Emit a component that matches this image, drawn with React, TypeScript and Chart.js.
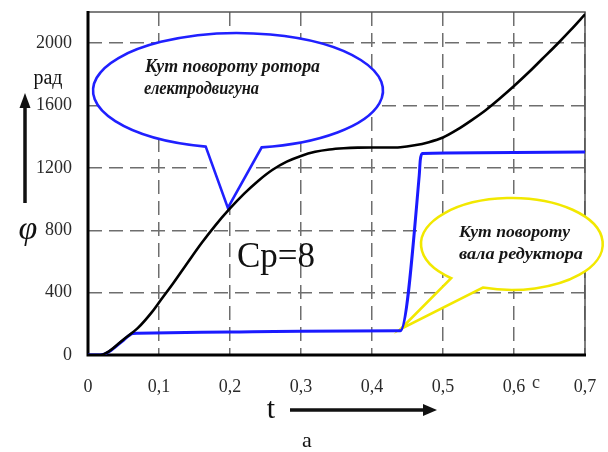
import React, { useEffect, useRef } from 'react';
import { Chart, registerables } from 'chart.js';

Chart.register(...registerables);

// ---- data (t in seconds, phi in rad) ----
const rotorT = [0, 0.017, 0.03, 0.05, 0.07, 0.09, 0.1, 0.12, 0.14, 0.16, 0.18, 0.2, 0.22, 0.24, 0.26, 0.28, 0.3, 0.32, 0.34, 0.36, 0.38, 0.4, 0.42, 0.44, 0.46, 0.48, 0.5, 0.52, 0.54, 0.56, 0.58, 0.6, 0.62, 0.64, 0.66, 0.68, 0.7];
const rotorPhi = [0, 0, 25, 100, 172, 275, 337, 460, 590, 718, 835, 940, 1035, 1118, 1188, 1240, 1277, 1303, 1318, 1326, 1330, 1331, 1331, 1333, 1345, 1365, 1395, 1445, 1505, 1570, 1645, 1725, 1810, 1900, 1990, 2085, 2185];
const shaftT = [0, 0.017, 0.03, 0.05, 0.063, 0.07, 0.2, 0.3, 0.44, 0.4665, 0.468, 0.471, 0.55, 0.7];
const shaftPhi = [0, 0, 22, 95, 138, 140, 147, 152, 155, 1150, 1250, 1293, 1298, 1302];

const xTicks = [0, 0.1, 0.2, 0.3, 0.4, 0.5, 0.6, 0.7];
const xTickLabels = ['0', '0,1', '0,2', '0,3', '0,4', '0,5', '0,6', '0,7'];
const yTicks = [0, 400, 800, 1200, 1600, 2000];

const rotorLabel = ['Кут повороту ротора', 'електродвигуна'];
const shaftLabel = ['Кут повороту', 'вала редуктора'];
const ratioLabel = 'Cp=8';
const yUnit = 'рад';
const xUnit = 'c';
const yName = 'φ';
const xName = 't';
const caption = 'a';

const SERIF = '"Liberation Serif", "Times New Roman", serif';

type Callout = {
  color: string;
  c: [number, number];
  r: [number, number];
  baseA: [number, number];
  tip: [number, number];
  baseB: [number, number];
  lines: { text: string; at: [number, number]; w: number }[];
  size: number;
};

const callouts: Callout[] = [
  {
    color: '#2020ff',
    c: [0.2113, 1696],
    r: [0.2042, 369],
    baseA: [0.1648, 1328],
    tip: [0.197, 943],
    baseB: [0.245, 1328],
    lines: [
      { text: rotorLabel[0], at: [0.0803, 1815], w: 175 },
      { text: rotorLabel[1], at: [0.0789, 1674], w: 115 },
    ],
    size: 18,
  },
  {
    color: '#f2e800',
    c: [0.597, 712],
    r: [0.128, 295],
    baseA: [0.507, 481],
    tip: [0.44, 165],
    baseB: [0.552, 404],
    lines: [
      { text: shaftLabel[0], at: [0.5225, 757], w: 111 },
      { text: shaftLabel[1], at: [0.5225, 616], w: 124 },
    ],
    size: 17,
  },
];

function drawCallout(ctx: CanvasRenderingContext2D, xs: any, ys: any, co: Callout) {
  const cx = xs.getPixelForValue(co.c[0]);
  const cy = ys.getPixelForValue(co.c[1]);
  const rx = Math.abs(xs.getPixelForValue(co.c[0] + co.r[0]) - cx);
  const ry = Math.abs(ys.getPixelForValue(co.c[1] - co.r[1]) - cy);
  const ang = (p: [number, number]) => {
    const px = xs.getPixelForValue(p[0]);
    const py = ys.getPixelForValue(p[1]);
    return Math.atan2((py - cy) / ry, (px - cx) / rx);
  };
  const a = ang(co.baseA);
  const b = ang(co.baseB);
  let end = b;
  while (end < a) end += Math.PI * 2;
  if (end - a < Math.PI) end += Math.PI * 2;
  ctx.beginPath();
  ctx.ellipse(cx, cy, rx, ry, 0, a, end, false);
  ctx.lineTo(xs.getPixelForValue(co.tip[0]), ys.getPixelForValue(co.tip[1]));
  ctx.closePath();
  ctx.fillStyle = '#ffffff';
  ctx.fill();
  ctx.lineWidth = 2.6;
  ctx.strokeStyle = co.color;
  ctx.lineJoin = 'miter';
  ctx.stroke();

  ctx.fillStyle = '#161616';
  ctx.font = `italic bold ${co.size}px ${SERIF}`;
  ctx.textAlign = 'left';
  ctx.textBaseline = 'alphabetic';
  for (const ln of co.lines) {
    const px = xs.getPixelForValue(ln.at[0]);
    const py = ys.getPixelForValue(ln.at[1]);
    const mw = ctx.measureText(ln.text).width;
    ctx.save();
    ctx.translate(px, py);
    ctx.scale(ln.w / mw, 1);
    ctx.fillText(ln.text, 0, 0);
    ctx.restore();
  }
}

const decorPlugin = {
  id: 'decor',
  beforeDatasetsDraw(chart: any) {
    const { ctx, chartArea: ca, scales } = chart;
    const xs = scales.x;
    const ys = scales.y;
    ctx.save();
    ctx.strokeStyle = '#555555';
    ctx.lineWidth = 1.5;
    ctx.setLineDash([]);
    ctx.beginPath();
    ctx.moveTo(ca.left, ca.top);
    ctx.lineTo(ca.right, ca.top);
    ctx.lineTo(ca.right, ca.bottom);
    ctx.stroke();
    ctx.strokeStyle = '#000000';
    ctx.lineWidth = 3;
    ctx.beginPath();
    ctx.moveTo(ca.left, ca.top - 1);
    ctx.lineTo(ca.left, ca.bottom);
    ctx.lineTo(ca.right + 1, ca.bottom);
    ctx.stroke();

    for (const co of callouts) drawCallout(ctx, xs, ys, co);

    ctx.fillStyle = '#111111';
    ctx.font = `35px ${SERIF}`;
    ctx.textAlign = 'left';
    ctx.textBaseline = 'alphabetic';
    ctx.fillText(ratioLabel, xs.getPixelForValue(0.2099), ys.getPixelForValue(564));
    ctx.restore();
  },
  afterDraw(chart: any) {
    const { ctx } = chart;
    ctx.save();
    ctx.fillStyle = '#111111';
    ctx.strokeStyle = '#111111';
    ctx.textBaseline = 'alphabetic';
    ctx.textAlign = 'center';
    ctx.font = `20px ${SERIF}`;
    ctx.fillText(yUnit, 48, 84);
    ctx.lineWidth = 3.5;
    ctx.beginPath();
    ctx.moveTo(25, 203);
    ctx.lineTo(25, 104);
    ctx.stroke();
    ctx.beginPath();
    ctx.moveTo(25, 93);
    ctx.lineTo(19.5, 108);
    ctx.lineTo(30.5, 108);
    ctx.closePath();
    ctx.fill();
    ctx.font = `italic 34px ${SERIF}`;
    ctx.fillText(yName, 28, 239);
    ctx.font = `18px ${SERIF}`;
    ctx.fillStyle = '#333333';
    ctx.fillText(xUnit, 536, 388);
    ctx.fillStyle = '#111111';
    ctx.font = `30px ${SERIF}`;
    ctx.fillText(xName, 271, 418);
    ctx.lineWidth = 3.5;
    ctx.beginPath();
    ctx.moveTo(290, 410);
    ctx.lineTo(425, 410);
    ctx.stroke();
    ctx.beginPath();
    ctx.moveTo(437, 410);
    ctx.lineTo(423, 404);
    ctx.lineTo(423, 416);
    ctx.closePath();
    ctx.fill();
    ctx.font = `22px ${SERIF}`;
    ctx.fillText(caption, 307, 447);
    ctx.restore();
  },
};

export default function App() {
  const ref = useRef<HTMLCanvasElement | null>(null);

  useEffect(() => {
    if (!ref.current) return;
    const chart = new Chart(ref.current, {
      type: 'line',
      data: {
        datasets: [
          {
            label: 'rotor',
            data: rotorT.map((t, i) => ({ x: t, y: rotorPhi[i] })),
            borderColor: '#000000',
            borderWidth: 2.6,
            pointRadius: 0,
            cubicInterpolationMode: 'monotone',
            order: 1,
          },
          {
            label: 'shaft',
            data: shaftT.map((t, i) => ({ x: t, y: shaftPhi[i] })),
            borderColor: '#1a1aff',
            borderWidth: 3,
            pointRadius: 0,
            cubicInterpolationMode: 'monotone',
            order: 2,
          },
        ],
      },
      options: {
        animation: false,
        responsive: false,
        devicePixelRatio: 1,
        layout: { padding: { top: 12, right: 23, bottom: 0, left: 0 } },
        plugins: {
          legend: { display: false },
          tooltip: { enabled: false },
        },
        scales: {
          x: {
            type: 'linear',
            min: 0,
            max: 0.7,
            afterBuildTicks: (s: any) => {
              s.ticks = xTicks.map((v) => ({ value: v }));
            },
            afterFit: (s: any) => {
              s.height = 97;
              s.paddingLeft = 0;
              s.paddingRight = 0;
              s.paddingTop = 0;
              s.paddingBottom = 0;
            },
            ticks: {
              autoSkip: false,
              maxRotation: 0,
              padding: 21,
              color: '#2a2a2a',
              font: { family: SERIF, size: 18 },
              callback: (_v: any, i: number) => xTickLabels[i],
            },
            grid: {
              color: '#6e6e6e',
              lineWidth: 1.5,
              drawTicks: false,
            },
            border: { display: false, dash: [14, 7] },
          },
          y: {
            type: 'linear',
            min: 0,
            max: 2200,
            afterBuildTicks: (s: any) => {
              s.ticks = yTicks.map((v) => ({ value: v }));
            },
            afterFit: (s: any) => {
              s.width = 88;
              s.paddingLeft = 0;
              s.paddingRight = 0;
              s.paddingTop = 0;
              s.paddingBottom = 0;
            },
            ticks: {
              autoSkip: false,
              padding: 16,
              color: '#2a2a2a',
              font: { family: SERIF, size: 18 },
              callback: (v: any) => String(v),
            },
            grid: {
              color: '#6e6e6e',
              lineWidth: 1.5,
              drawTicks: false,
            },
            border: { display: false, dash: [14, 7] },
          },
        },
      },
      plugins: [decorPlugin],
    } as any);
    return () => chart.destroy();
  }, []);

  return (
    <div style={{ position: 'fixed', left: 0, top: 0, width: 608, height: 452, background: '#fff' }}>
      <canvas ref={ref} width={608} height={452} style={{ display: 'block' }} />
    </div>
  );
}
